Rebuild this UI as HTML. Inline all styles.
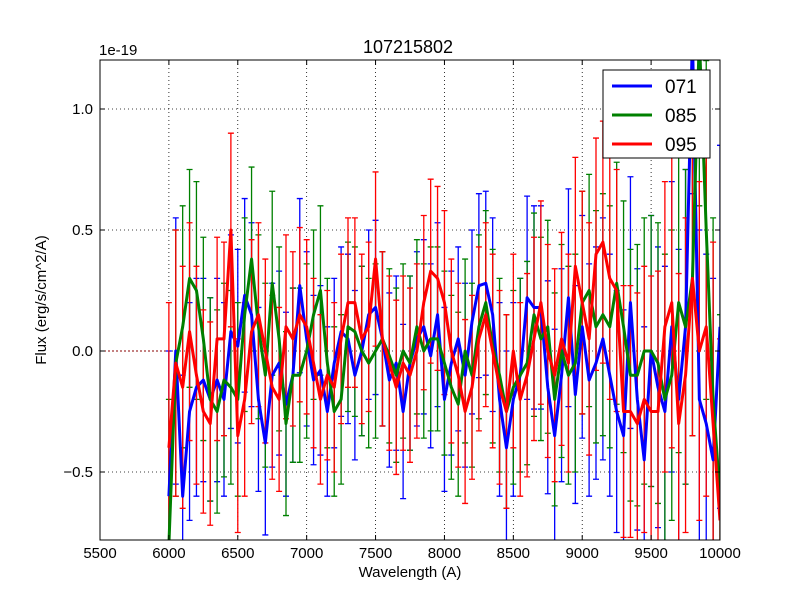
<!DOCTYPE html>
<html><head><meta charset="utf-8"><style>
html,body{margin:0;padding:0;background:#fff;overflow:hidden;width:800px;height:600px}
svg{display:block}
svg text{font-family:"Liberation Sans",sans-serif}
</style></head><body>
<svg id="c" width="800" height="600">
<rect width="800" height="600" fill="#fff"/>
<defs><clipPath id="clip"><rect x="100" y="60" width="620" height="480"/></clipPath></defs>
<g id="grid"></g>
<g id="plot" clip-path="url(#clip)"></g>
<rect x="100" y="60" width="620" height="480" fill="none" stroke="#000" stroke-width="1"/>
<g id="ticks"></g>
<text x="408" y="53" font-size="18" text-anchor="middle">107215802</text>
<text x="99" y="55" font-size="15">1e-19</text>
<text x="410" y="577" font-size="15" text-anchor="middle">Wavelength (A)</text>
<text transform="translate(46,300) rotate(-90)" font-size="15" text-anchor="middle">Flux (erg/s/cm^2/A)</text>
<g id="legend">
<rect x="603" y="70" width="107" height="88" fill="#fff" stroke="#000"/>
</g>
</svg>
<script>
const names=["071","085","095"];
const colors=["#0000ff","#008000","#ff0000"];
const xTicks=[5500,6000,6500,7000,7500,8000,8500,9000,9500,10000];
const yTicks=[-0.5,0.0,0.5,1.0];
const yTickLabels=["\u22120.5","0.0","0.5","1.0"];
const blue=[-0.6,0,-0.6,-0.25,-0.15,-0.12,-0.2,-0.12,-0.2,0.08,0.02,0.23,0.15,-0.2,-0.38,-0.1,-0.05,-0.22,-0.1,0.27,0.05,-0.12,-0.08,-0.25,-0.05,0.08,0.05,-0.1,0,0.15,0.18,0.05,-0.12,-0.05,-0.25,-0.05,0.05,0.1,-0.02,0.15,-0.2,-0.05,0.05,-0.1,0.12,0.27,0.28,0.15,-0.2,-0.4,-0.2,-0.1,0.22,0.18,0.18,-0.15,-0.35,-0.1,0.22,-0.18,0.1,-0.12,-0.05,0.05,-0.1,-0.25,-0.35,0.2,-0.2,-0.45,0,-0.15,-0.25,0.1,-0.2,0.1,1.3,-0.2,-0.3,-0.45,0.1];
const green=[-0.8,-0.05,0.1,0.3,0.25,0.05,-0.2,-0.25,-0.12,-0.15,-0.2,0.15,0.38,0.1,-0.1,0.28,0.05,-0.3,-0.1,-0.1,0,0.15,0.25,-0.05,-0.25,-0.2,0.1,0.08,0,-0.05,0,0.05,-0.02,-0.1,0,-0.05,0.1,0,0.05,0.05,-0.05,-0.15,-0.22,0,-0.1,0.1,0.2,0.02,-0.1,-0.25,-0.15,-0.1,-0.05,0.15,0.05,0.1,-0.2,0,-0.1,-0.05,0.2,0.25,0.1,0.15,0.1,0.28,0.1,-0.1,-0.1,0,0,-0.05,-0.2,-0.1,0.2,0.1,0.3,1.3,0.5,-0.2,-0.6];
const red=[-0.4,-0.05,-0.15,0.08,-0.1,-0.25,-0.3,0.05,0.05,0.5,-0.35,-0.2,0.08,0.15,0,-0.15,-0.2,0.1,0.05,0.15,0.1,-0.05,-0.2,-0.1,-0.15,0.05,0.2,0.2,0.05,0.1,0.38,0.05,-0.05,-0.15,-0.05,-0.1,0,0.2,0.33,0.3,0.2,0,-0.1,-0.25,-0.15,0.05,0.15,0,-0.15,-0.25,0,-0.2,-0.1,0.05,0.2,0,-0.1,0.05,-0.05,0.35,0.2,0.05,0.4,0.45,0.3,0.25,-0.25,-0.25,-0.3,-0.2,-0.25,-0.25,0.1,0.2,-0.3,-0.1,0.3,0,0.1,-0.3,-0.7];
const errs=[0.6,0.55,0.5,0.45,0.45,0.42,0.42,0.42,0.4,0.4,0.4,0.4,0.38,0.38,0.38,0.38,0.38,0.38,0.36,0.36,0.36,0.35,0.35,0.35,0.35,0.35,0.35,0.35,0.35,0.35,0.36,0.36,0.36,0.36,0.36,0.36,0.36,0.36,0.38,0.38,0.38,0.38,0.38,0.38,0.38,0.38,0.38,0.4,0.4,0.4,0.4,0.4,0.42,0.42,0.42,0.44,0.44,0.44,0.45,0.45,0.46,0.48,0.48,0.5,0.5,0.5,0.52,0.52,0.54,0.55,0.56,0.58,0.6,0.6,0.62,0.65,0.65,0.7,0.7,0.75,0.75];
const xStart=6000, xStep=50;
const series=[blue,green,red];
const X=v=>100+(v-5500)*620/4500;
const Y=v=>351-v*242;
const NS="http://www.w3.org/2000/svg";
function mk(t,a,p){const e=document.createElementNS(NS,t);for(const k in a)e.setAttribute(k,a[k]);p.appendChild(e);return e;}
const grid=document.getElementById('grid'),plot=document.getElementById('plot'),ticks=document.getElementById('ticks');
xTicks.forEach(t=>{
 const x=X(t);
 const g=mk('line',{x1:x,x2:x,y1:60,y2:540,stroke:'#000','stroke-dasharray':'1,3','stroke-width':0.8},grid);
 
 
 mk('line',{x1:x,x2:x,y1:540,y2:535,stroke:'#000'},ticks);
 mk('line',{x1:x,x2:x,y1:60,y2:65,stroke:'#000'},ticks);
 const l=mk('text',{x:x,y:558,'font-size':15,'text-anchor':'middle'},ticks);l.textContent=t;
 
 
});
yTicks.forEach((t,i)=>{
 const y=Y(t);
 const g=mk('line',{x1:100,x2:720,y1:y,y2:y,stroke:'#000','stroke-dasharray':'1,3','stroke-width':0.8},grid);
 
 
 mk('line',{x1:100,x2:105,y1:y,y2:y,stroke:'#000'},ticks);
 mk('line',{x1:720,x2:715,y1:y,y2:y,stroke:'#000'},ticks);
 const l=mk('text',{x:93,y:y+5,'font-size':15,'text-anchor':'end'},ticks);l.textContent=yTickLabels[i];
 
 
});
const zl=mk('line',{x1:100,x2:X(xStart),y1:Y(0),y2:Y(0),stroke:'#800',"stroke-dasharray":"2,2"},plot);


series.forEach((s,si)=>{
 const g=mk('g',{},plot);
 
 
 s.forEach((v,i)=>{
  const x=X(xStart+i*xStep),e=errs[i];
  const eb=mk('path',{d:`M${x},${Y(v-e)}V${Y(v+e)}M${x-3},${Y(v-e)}h6M${x-3},${Y(v+e)}h6`,stroke:colors[si],'stroke-width':1.3,fill:'none'},g);
  
  
 });
});
series.forEach((s,si)=>{
 const p=mk('polyline',{points:s.map((v,i)=>X(xStart+i*xStep)+','+Y(v)).join(' '),fill:'none',stroke:colors[si],'stroke-width':3,'stroke-linejoin':'round'},plot);
 
 
});
const lg=document.getElementById('legend');
names.forEach((n,i)=>{
 const y=86+i*29;
 const ln=mk('line',{x1:612,x2:652,y1:y,y2:y,stroke:colors[i],'stroke-width':3},lg);
 
 
 const t=mk('text',{x:665,y:y+7,'font-size':19},lg);t.textContent=n;
 
 
});
</script>
</body></html>
